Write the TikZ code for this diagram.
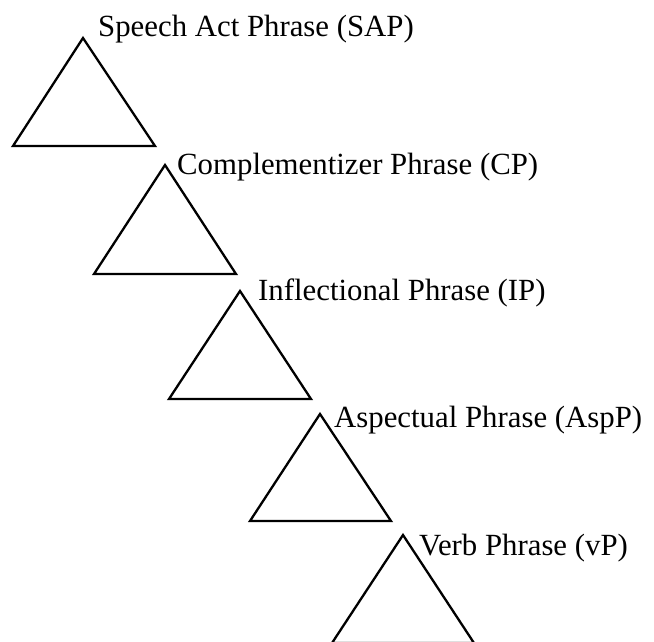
\documentclass[tikz,border=0pt]{standalone}
\usepackage{fontspec}
\setmainfont{Liberation Serif}
\begin{document}
\begin{tikzpicture}[x=1pt,y=1pt,
  tri/.style={draw=black,line width=2.3pt,line join=miter},
  lab/.style={anchor=base west,inner sep=0pt,font=\fontsize{30.8}{36}\selectfont}]
\useasboundingbox (0,0) rectangle (654,641);
\clip (0,0) rectangle (654,641);
% triangles (image y -> 641 - y)
\draw[tri] (83,603) -- (155,495) -- (13,495) -- cycle;
\draw[tri] (165,476) -- (236,367) -- (94,367) -- cycle;
\draw[tri] (240,350) -- (311,242) -- (169,242) -- cycle;
\draw[tri] (320,227) -- (391,120) -- (250,120) -- cycle;
\draw[tri] (403,106) -- (474,-2) -- (332,-2) -- cycle;
% labels
\node[lab] (sap) at (98,604) {Speech Act Phrase (SAP)};
\node[lab] (cp) at (177,466) {Complementizer Phrase (CP)};
\node[lab] (ip) at (258,340) {Inflectional Phrase (IP)};
\node[lab] (asp) at (334,214) {Aspectual Phrase (AspP)};
\node[lab] (vp) at (419,86) {Verb Phrase (vP)};
\end{tikzpicture}
\end{document}
